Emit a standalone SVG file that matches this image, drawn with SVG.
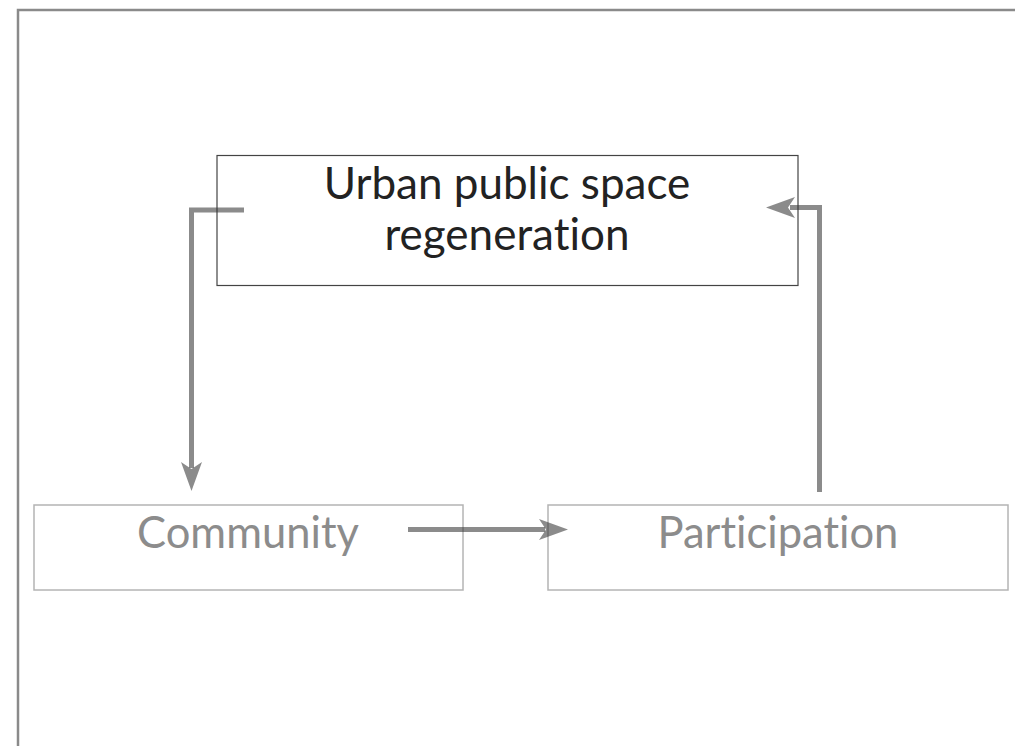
<svg xmlns="http://www.w3.org/2000/svg" width="1015" height="746" viewBox="0 0 1015 746">
<style>
.frame{fill:none;stroke:#8a8a8a;stroke-width:2.5}
.main{fill:#fff;stroke:#444;stroke-width:1.2}
.sub{fill:#fff;stroke:#b4b4b4;stroke-width:1.5}
.t1{font-family:Lato,"Liberation Sans",sans-serif;font-size:44px;fill:#222;text-anchor:middle;font-variant-ligatures:none}
.t2{font-family:Lato,"Liberation Sans",sans-serif;font-size:43.5px;fill:#8c8c8c;text-anchor:middle;font-variant-ligatures:none}
.conn{fill:none;stroke:#333;stroke-opacity:0.57;stroke-width:5}
.head{fill:#333;fill-opacity:0.57}
</style>
<rect width="1015" height="746" fill="#fff"/>
<rect class="frame" x="18" y="10" width="1100" height="800"/>
<g id="node-urban">
<rect class="main" x="217" y="155.5" width="581" height="130"/>
<text class="t1" x="507" y="199">Urban public space</text>
<text class="t1" x="507" y="250">regeneration</text>
</g>
<g id="node-community">
<rect class="sub" x="34" y="505" width="429" height="85"/>
<text class="t2" x="248" y="548">Community</text>
</g>
<g id="node-participation">
<rect class="sub" x="548" y="505" width="460" height="85"/>
<text class="t2" x="778" y="548">Participation</text>
</g>
<g id="connectors">
<path class="conn" d="M244,210 H191.5 V468"/>
<polygon class="head" points="191.5,491 181,462 191.5,469 202,462"/>
<path class="conn" d="M408,529.5 H545"/>
<polygon class="head" points="568,529.5 539,519 546,529.5 539,540"/>
<path class="conn" d="M819.5,492 V207.5 H790"/>
<polygon class="head" points="766,207.5 795,197 788,207.5 795,218"/>
</g>
</svg>
